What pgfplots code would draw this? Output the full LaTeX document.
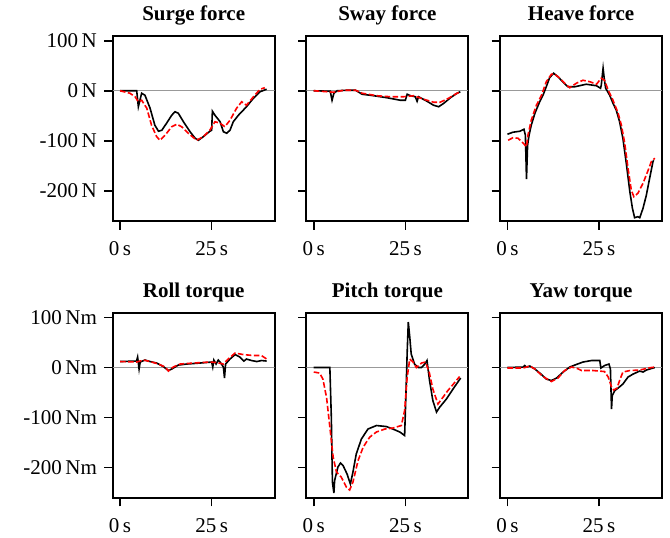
\documentclass[border=0pt]{standalone}
\usepackage{fontspec}
\setmainfont{Liberation Serif}
\usepackage{pgfplots}
\pgfplotsset{compat=1.18}
\usepgfplotslibrary{groupplots}

\pgfplotsset{
  meas/.style={black, line width=0.8pt},
  pred/.style={red, line width=0.8pt, dash pattern=on 2.8pt off 1.2pt},
}
\newcommand{\zeroline}{\draw[gray!80, line width=0.5pt] ({rel axis cs:0,0}|-{axis cs:0,0}) -- ({rel axis cs:1,0}|-{axis cs:0,0});}

\begin{document}
\fontsize{10.5}{12}\selectfont
\begin{tikzpicture}
\begin{groupplot}[
  group style={group size=3 by 2, horizontal sep=15.85pt, vertical sep=45.8pt,
    yticklabels at=edge left},
  scale only axis, width=81pt, height=92.6pt,
  xmin=-2, xmax=42.2, ymin=-261, ymax=109.5,
  xtick={0,25}, xticklabels={0\,s,25\,s},
  ytick={-200,-100,0,100},
  tick pos=left, tick align=outside, major tick length=4.2pt,
  axis line style={line width=1pt},
  every tick/.style={black, line width=0.8pt},
  title style={font=\fontsize{10.5}{12}\selectfont\bfseries, anchor=base, yshift=1.6pt},
  tick label style={font=\fontsize{10.5}{12}\selectfont},
  xticklabel style={yshift=-2.5pt},
]

% Surge force
\nextgroupplot[title={Surge force}, yticklabels={-200\,N,-100\,N,0\,N,100\,N}]
\zeroline
\addplot[meas] coordinates {
 (0,0) (4.55,0) (5,-32) (5.9,-5) (6.8,-9) (8.2,-35) (9.5,-69) (10.5,-81) (11.4,-79)
 (12.7,-65) (14.1,-49) (15,-42) (15.9,-45) (17.3,-62) (19.1,-82) (20.5,-95) (21.4,-99)
 (22.7,-92) (24.5,-81) (25,-79) (25.2,-41) (25.9,-49) (27.3,-62) (28.2,-82) (29.1,-85)
 (30,-79) (30.9,-62) (32.3,-49) (33.6,-39) (34.5,-32) (36.4,-15) (38.2,-2) (40,3)
};
\addplot[pred] coordinates {
 (0,0) (2.7,-5) (4.1,-12) (5,-22) (5.9,-19) (7.3,-35) (8.6,-69) (10,-92) (10.9,-99)
 (12.3,-89) (14.1,-72) (15.5,-67) (16.8,-72) (18.6,-85) (20.9,-99) (22.7,-92) (24.5,-79)
 (25.9,-62) (27.3,-65) (28.6,-72) (30,-59) (31.8,-35) (33.2,-22) (34.5,-29) (36.4,-12)
 (38.2,3) (39.5,6)
};

% Sway force
\nextgroupplot[title={Sway force}]
\zeroline
\addplot[meas] coordinates {
 (0,0) (4.5,-1) (5,-19) (5.5,-5) (6.4,0) (9.1,1) (11.4,1) (13.2,-7) (16.4,-10) (20,-14)
 (23.6,-19) (25,-19) (25.5,-7) (26.4,-10) (27.7,-12) (28.2,-21) (28.6,-12) (30.9,-21)
 (32.7,-29) (34.1,-32) (35.5,-25) (37.3,-14) (39.1,-5) (40,-2)
};
\addplot[pred] coordinates {
 (0,0) (5.5,-3) (8.2,1) (11.4,1) (13.2,-5) (17.3,-10) (20.9,-12) (24.5,-12) (27.3,-10)
 (30,-17) (32.7,-23) (34.5,-23) (36.8,-15) (38.6,-7) (40,-2)
};

% Heave force
\nextgroupplot[title={Heave force}]
\zeroline
\addplot[meas] coordinates {
 (0,-87) (1.5,-83) (3.4,-81) (4.5,-77) (4.9,-89) (5.2,-177) (5.5,-109) (5.9,-89) (6.5,-69)
 (7.5,-45) (8.8,-22) (9.7,-9) (10.6,8) (11.5,26) (12.6,35) (13.8,28) (15.2,17) (16.5,8)
 (18.4,8) (21.5,13) (24.3,10) (25.4,5) (25.6,11) (26.1,45) (26.4,25) (26.8,5) (27.9,-9)
 (28.8,-25) (29.7,-39) (30.6,-62) (31.5,-95) (32.5,-149) (33.4,-202) (34.1,-235)
 (34.7,-254) (35.6,-252) (36.1,-254) (37,-235) (37.9,-209) (38.8,-175) (39.7,-142) (39.9,-139)
};
\addplot[pred] coordinates {
 (0.2,-99) (1.5,-94) (2.9,-95) (4.3,-105) (5.2,-112) (5.6,-89) (6.5,-59) (7.9,-29)
 (9.3,-9) (10.6,18) (12,33) (12.9,33) (14.3,25) (15.6,15) (17,6) (18.8,15) (20.6,21)
 (22.5,18) (24.3,13) (25.6,25) (26.5,21) (27.5,1) (28.8,-19) (30.2,-45) (31.1,-69)
 (32,-105) (32.9,-155) (33.8,-199) (34.5,-212) (35.6,-205) (37,-185) (38.4,-159)
 (39.3,-141) (40.2,-135)
};

% Roll torque
\nextgroupplot[title={Roll torque}, yticklabels={-200\,Nm,-100\,Nm,0\,Nm,100\,Nm}]
\zeroline
\addplot[meas] coordinates {
 (0,12) (4.5,13) (4.8,21) (5.2,-3) (5.5,11) (6.8,15) (8.2,12) (10,9) (11.8,2) (13.2,-6)
 (14.1,-3) (15.9,5) (18.2,7) (21.8,9) (25,11) (25.3,1) (25.6,15) (26.2,7) (26.8,15)
 (27.5,9) (28.2,1) (28.5,-21) (28.8,7) (30,17) (31.4,26) (32.7,21) (33.8,13) (34.5,17)
 (35.9,14) (37.3,12) (38.6,14) (40,13)
};
\addplot[pred] coordinates {
 (0,12) (4.5,11) (6.4,15) (8.2,12) (10.5,7) (12.3,1) (13.2,-7) (14.5,1) (16.4,7) (20,9)
 (24.5,11) (26.4,10) (28.2,7) (29.5,17) (31.4,29) (33.6,26) (36.4,24) (38.6,24) (40,17)
};

% Pitch torque
\nextgroupplot[title={Pitch torque}]
\zeroline
\addplot[meas] coordinates {
 (0,0) (4.4,0) (4.8,-99) (5.1,-229) (5.5,-251) (5.7,-226) (6.6,-199) (7.3,-191) (8,-196)
 (9.1,-213) (10,-233) (10.7,-209) (11.6,-173) (13,-143) (14.8,-123) (17.1,-116) (19.8,-118)
 (21.6,-123) (23.5,-129) (24.8,-136) (25.3,-19) (25.5,31) (25.8,91) (26.2,61) (26.6,27)
 (27.5,7) (28.5,0) (29.4,0) (30.3,7) (30.9,14) (31.6,-26) (32.5,-66) (33.5,-89) (34.4,-79)
 (36.2,-63) (38,-43) (39.8,-24) (40.1,-21)
};
\addplot[pred] coordinates {
 (0,-9) (1.6,-11) (2.5,-23) (3.5,-60) (4.4,-119) (5.3,-179) (6.2,-209) (7.5,-219)
 (8.9,-239) (9.8,-245) (10.7,-229) (12.1,-186) (13.5,-159) (15.3,-139) (17.1,-129)
 (19.4,-123) (21.6,-121) (23.9,-116) (24.8,-86) (25.5,-19) (26.2,17) (27.1,11) (28,0)
 (29.4,9) (30.5,11) (31.5,-9) (32.5,-43) (33.9,-73) (35.3,-59) (36.6,-46) (38,-34) (39.8,-18)
};

% Yaw torque
\nextgroupplot[title={Yaw torque}]
\zeroline
\addplot[meas] coordinates {
 (0,0) (4.3,1) (4.7,4) (5.2,1) (6.1,3) (7.5,-3) (9.3,-14) (10.6,-23) (12,-26) (13.4,-21)
 (15.2,-9) (17,1) (18.4,5) (20.6,11) (22.9,14) (25.2,14) (25.5,-1) (26.5,4) (27.7,7)
 (28.1,-3) (28.4,-83) (28.6,-56) (29.3,-46) (30.2,-41) (31.5,-33) (32.9,-19) (34.3,-13)
 (36.1,-7) (37,-9) (37.9,-5) (39.7,-1) (40.2,0)
};
\addplot[pred] coordinates {
 (0,-1) (4.3,-1) (6.1,3) (7.5,-3) (9.7,-18) (12,-28) (13.8,-21) (15.6,-6) (17.5,1)
 (18.8,-1) (20.2,-6) (23.4,-6) (26.5,-8) (27.5,-19) (28.4,-39) (29,-45) (29.9,-41)
 (30.6,-26) (31.5,-9) (33.4,-6) (36.1,-5) (38.4,-1) (40.2,1)
};
\end{groupplot}
\pgfresetboundingbox
\useasboundingbox (group c1r1.north west) ++(-56.35pt,18pt) rectangle ++(335pt,-268.5pt);
\end{tikzpicture}
\end{document}
